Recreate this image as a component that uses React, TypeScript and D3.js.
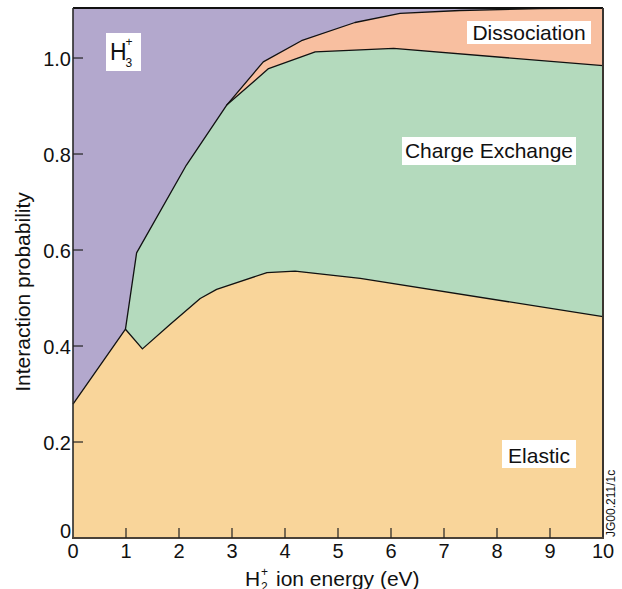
import React, { useEffect, useRef } from "react";
import * as d3 from "d3";

// boundaries (x = H2+ ion energy in eV, y = cumulative probability)
const elasticX = [0, 0.99, 1.31, 1.83, 2.4, 2.71, 3.66, 4.19, 5.42, 10];
const elasticY = [0.279, 0.435, 0.394, 0.445, 0.499, 0.518, 0.553, 0.556, 0.541, 0.461];

const chargeX = [0.99, 1.2, 2.14, 2.9, 3.69, 4.57, 5.42, 6.05, 10];
const chargeY = [0.435, 0.594, 0.777, 0.902, 0.978, 1.013, 1.017, 1.02, 0.984];

const dissocX = [2.9, 3.59, 4.31, 5.32, 6.17, 7.3, 8.8, 10];
const dissocY = [0.902, 0.992, 1.036, 1.074, 1.093, 1.099, 1.103, 1.1042];

const xTicks = [0, 1, 2, 3, 4, 5, 6, 7, 8, 9, 10];
const yTicks = [0, 0.2, 0.4, 0.6, 0.8, 1.0];

const FONT = "'Liberation Sans', Arial, sans-serif";

function InteractionChart() {
  const svgRef = useRef<SVGSVGElement | null>(null);

  useEffect(() => {
    const width = 622;
    const height = 589;
    const margin = { top: 8, right: 19, bottom: 51, left: 73 };

    d3.select(svgRef.current).selectAll("*").remove();

    const svg = d3
      .select(svgRef.current)
      .attr("width", width)
      .attr("height", height);

    const x = d3
      .scaleLinear()
      .domain([0, 10])
      .range([margin.left, width - margin.right]);

    const y = d3
      .scaleLinear()
      .domain([0, 1.1042])
      .range([height - margin.bottom, margin.top]);

    const toPts = (xs: number[], ys: number[]) =>
      xs.map((v, i) => [v, ys[i]] as [number, number]);

    const area = d3
      .area<[number, number]>()
      .x((d) => x(d[0]))
      .y0(y(0))
      .y1((d) => y(d[1]));

    const line = d3
      .line<[number, number]>()
      .x((d) => x(d[0]))
      .y((d) => y(d[1]));

    // H3+ background
    svg
      .append("rect")
      .attr("x", x(0))
      .attr("y", y(1.1042))
      .attr("width", x(10) - x(0))
      .attr("height", y(0) - y(1.1042))
      .attr("fill", "#b3a8cd");

    const layers = [
      { pts: toPts(dissocX, dissocY), fill: "#f8bfa0" },
      { pts: toPts(chargeX, chargeY), fill: "#b4dabd" },
      { pts: toPts(elasticX, elasticY), fill: "#f9d59a" },
    ];

    layers.forEach((l) => {
      svg.append("path").attr("d", area(l.pts)).attr("fill", l.fill);
    });

    layers.forEach((l) => {
      svg
        .append("path")
        .attr("d", line(l.pts))
        .attr("fill", "none")
        .attr("stroke", "#111")
        .attr("stroke-width", 1.3)
        .attr("stroke-linejoin", "round");
    });

    // frame
    svg
      .append("line")
      .attr("x1", x(0))
      .attr("x2", x(10))
      .attr("y1", y(1.1042))
      .attr("y2", y(1.1042))
      .attr("stroke", "#111")
      .attr("stroke-width", 2);
    svg
      .append("line")
      .attr("x1", x(10))
      .attr("x2", x(10))
      .attr("y1", y(1.1042))
      .attr("y2", y(0))
      .attr("stroke", "#3a3530")
      .attr("stroke-width", 2);
    svg
      .append("line")
      .attr("x1", x(0))
      .attr("x2", x(0))
      .attr("y1", y(1.1042))
      .attr("y2", y(0))
      .attr("stroke", "#2a2a2a")
      .attr("stroke-width", 1.6);
    svg
      .append("line")
      .attr("x1", x(0) - 1)
      .attr("x2", x(10) + 1)
      .attr("y1", y(0))
      .attr("y2", y(0))
      .attr("stroke", "#4a4238")
      .attr("stroke-width", 2.2);

    // ticks point inward
    svg
      .selectAll(".xt")
      .data(xTicks.slice(1, -1))
      .enter()
      .append("line")
      .attr("x1", (d) => x(d))
      .attr("x2", (d) => x(d))
      .attr("y1", y(0))
      .attr("y2", y(0) - 10)
      .attr("stroke", "#222")
      .attr("stroke-width", 1.2);

    svg
      .selectAll(".yt")
      .data(yTicks.slice(1))
      .enter()
      .append("line")
      .attr("x1", x(0))
      .attr("x2", x(0) + 10)
      .attr("y1", (d) => y(d))
      .attr("y2", (d) => y(d))
      .attr("stroke", "#222")
      .attr("stroke-width", 1.2);

    svg
      .selectAll(".xl")
      .data(xTicks)
      .enter()
      .append("text")
      .attr("x", (d) => x(d))
      .attr("y", 558)
      .attr("text-anchor", "middle")
      .style("font-family", FONT)
      .style("font-size", "20px")
      .attr("fill", "#111")
      .text((d) => d);

    svg
      .selectAll(".yl")
      .data(yTicks)
      .enter()
      .append("text")
      .attr("x", 71)
      .attr("y", (d) => (d === 0 ? y(0) : y(d) + 7.5))
      .attr("text-anchor", "end")
      .style("font-family", FONT)
      .style("font-size", "20px")
      .attr("fill", "#111")
      .text((d) => (d === 0 ? "0" : d3.format(".1f")(d)));

    // axis titles
    svg
      .append("text")
      .attr("transform", "translate(30,292) rotate(-90)")
      .attr("text-anchor", "middle")
      .style("font-family", FONT)
      .style("font-size", "21px")
      .attr("fill", "#111")
      .text("Interaction probability");

    const xt = svg
      .append("g")
      .style("font-family", FONT)
      .attr("fill", "#111");
    xt.append("text").attr("x", 245).attr("y", 586).style("font-size", "21px").text("H");
    xt.append("text").attr("x", 261).attr("y", 591).style("font-size", "12px").text("2");
    xt.append("text").attr("x", 261).attr("y", 576).style("font-size", "12px").text("+");
    xt.append("text").attr("x", 276).attr("y", 586).style("font-size", "21px").text("ion energy (eV)");

    // region labels in white boxes
    const boxes = [
      { text: "Dissociation", bx: 467, by: 21, bw: 124, bh: 23, ty: 40 },
      { text: "Charge Exchange", bx: 402, by: 137, bw: 174, bh: 28, ty: 158 },
      { text: "Elastic", bx: 502, by: 440, bw: 74, bh: 28, ty: 463 },
    ];
    boxes.forEach((b) => {
      svg
        .append("rect")
        .attr("x", b.bx)
        .attr("y", b.by)
        .attr("width", b.bw)
        .attr("height", b.bh)
        .attr("fill", "#fff");
      svg
        .append("text")
        .attr("x", b.bx + b.bw / 2)
        .attr("y", b.ty)
        .attr("text-anchor", "middle")
        .style("font-family", FONT)
        .style("font-size", "21px")
        .attr("fill", "#111")
        .text(b.text);
    });

    svg
      .append("rect")
      .attr("x", 106)
      .attr("y", 33)
      .attr("width", 35)
      .attr("height", 38)
      .attr("fill", "#fff");
    const h3 = svg.append("g").style("font-family", FONT).attr("fill", "#111");
    h3.append("text").attr("x", 110).attr("y", 60).style("font-size", "23px").text("H");
    h3.append("text").attr("x", 125.5).attr("y", 67).style("font-size", "12px").text("3");
    h3.append("text").attr("x", 125.5).attr("y", 46).style("font-size", "12px").text("+");

    svg
      .append("text")
      .attr("transform", "translate(615,537) rotate(-90)")
      .attr("text-anchor", "start")
      .style("font-family", FONT)
      .style("font-size", "12px")
      .attr("fill", "#111")
      .text("JG00.211/1c");
  }, []);

  return <svg ref={svgRef} style={{ position: "absolute", left: 0, top: 0 }}></svg>;
}

export default function App() {
  return <InteractionChart />;
}
